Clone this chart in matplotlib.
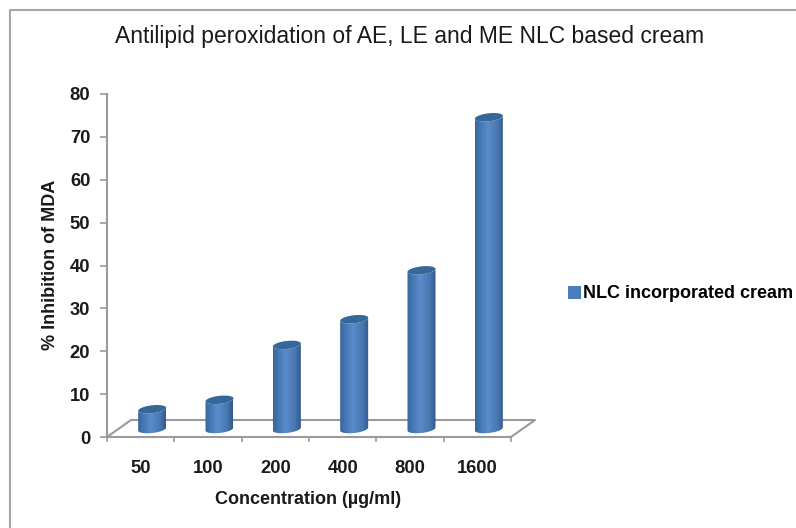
import numpy as np
import matplotlib
matplotlib.use("Agg")
import matplotlib.pyplot as plt
from matplotlib.colors import LinearSegmentedColormap
from matplotlib.lines import Line2D
from matplotlib.patches import Patch, PathPatch
from matplotlib.path import Path

plt.rcParams['font.family'] = ['Liberation Sans', 'DejaVu Sans']

concentrations = ['50', '100', '200', '400', '800', '1600']
inhibition = [4.6, 6.8, 19.6, 25.6, 37, 72.7]
y_ticks = [0, 10, 20, 30, 40, 50, 60, 70, 80]

W, H = 796, 528
fig = plt.figure(figsize=(W / 100, H / 100), dpi=100)
# plot box in pixels: x 107-511, y 94-437
ax = fig.add_axes([107 / W, 1 - 437 / H, 404 / W, 343 / H])
ax.set_xlim(0, 6)
ax.set_ylim(0, 80)

px_x = 6 / 404  # data units per pixel
px_y = 80 / 343
grey = '#9a9a9a'

# outer chart border, only left and top show in the picture
fig.add_artist(Line2D([10 / W, 10 / W, 1], [0, 1 - 10 / H, 1 - 10 / H], color='#a6a6a6', lw=1.5))

# 3d floor
depth_x, depth_y = 24 * px_x, 17 * px_y
ax.plot([0, depth_x, 6 + depth_x, 6], [0, depth_y, depth_y, 0], color=grey, lw=1.5, clip_on=False, zorder=1)

cyl = LinearSegmentedColormap.from_list('cyl', [(0, '#3a6699'), (0.15, '#4274b0'), (0.45, '#5b8ccb'),
                                                 (0.8, '#4876b0'), (1, '#2f5a8c')])
grad = np.linspace(0, 1, 64).reshape(1, -1)
half = 14 * px_x
ry = 4 * px_y
t = np.linspace(0, np.pi, 40)

for i, val in enumerate(inhibition):
    xc = i + 0.5 + 11.5 * px_x
    base = 8 * px_y
    top = base + val
    ex = xc + half * np.cos(t)
    # ellipses lean a bit, right side higher
    lean = 1.5 * px_y * np.cos(t)
    xs = np.r_[ex, ex[::-1]]
    ys = np.r_[top + lean - ry * np.sin(t), base + lean[::-1] - ry * np.sin(t[::-1])]
    body = Path(np.c_[xs, ys])
    im = ax.imshow(grad, cmap=cyl, aspect='auto', extent=(xc - half, xc + half, base - 2 * ry, top + 2 * ry),
                   zorder=3, clip_on=True)
    im.set_clip_path(PathPatch(body, transform=ax.transData))
    cap = np.r_[np.c_[ex, top + lean + ry * np.sin(t)], np.c_[ex[::-1], top + lean[::-1] - ry * np.sin(t[::-1])]]
    ax.add_patch(PathPatch(Path(cap), facecolor='#366799', edgecolor='none', zorder=4, clip_on=False))

ax.set_xlim(0, 6)
ax.set_ylim(0, 80)

for s in ['top', 'right']:
    ax.spines[s].set_visible(False)
for s in ['left', 'bottom']:
    ax.spines[s].set_color(grey)
    ax.spines[s].set_linewidth(1.5)
ax.patch.set_alpha(0)

ax.set_yticks(y_ticks)
ax.set_xticks(range(7))
ax.set_xticklabels([])
ax.set_xticks(np.arange(6) + 0.5, minor=True)
ax.set_xticklabels(concentrations, minor=True)
ax.tick_params(axis='y', length=5, width=1.2, color=grey, pad=7, labelsize=13.2, labelcolor='#1a1a1a')
ax.tick_params(axis='x', which='major', length=3.5, width=1.2, color=grey)
ax.tick_params(axis='x', which='minor', length=0, pad=16.5, labelsize=13.2, labelcolor='#1a1a1a')
for lab in ax.get_yticklabels() + ax.get_xticklabels(minor=True):
    lab.set_fontweight('bold')

ax.set_xlabel('Concentration (µg/ml)', fontsize=13, fontweight='bold', color='#1a1a1a')
ax.xaxis.set_label_coords((308 - 107) / 404, (437 - 500) / 343)
ax.xaxis.label.set_va('center')
ax.set_ylabel('% Inhibition of MDA', fontsize=13, fontweight='bold', color='#1a1a1a')
ax.yaxis.set_label_coords((50 - 107) / 404, (437 - 265) / 343)
ax.yaxis.label.set_va('center')

ax.text((410 - 107) / 404, (437 - 36) / 343, 'Antilipid peroxidation of AE, LE and ME NLC based cream',
        transform=ax.transAxes, ha='center', va='center', fontsize=16.5, color='#1a1a1a')

fig.legend(handles=[Patch(facecolor='#4a7ebb', label='NLC incorporated cream')], loc='center left',
           bbox_to_anchor=(568 / W, 1 - 294 / H), frameon=False, handlelength=0.7, handleheight=0.7,
           handletextpad=0.15, borderpad=0, borderaxespad=0,
           prop={'weight': 'bold', 'size': 13})

fig.savefig('out.png', dpi=100)
